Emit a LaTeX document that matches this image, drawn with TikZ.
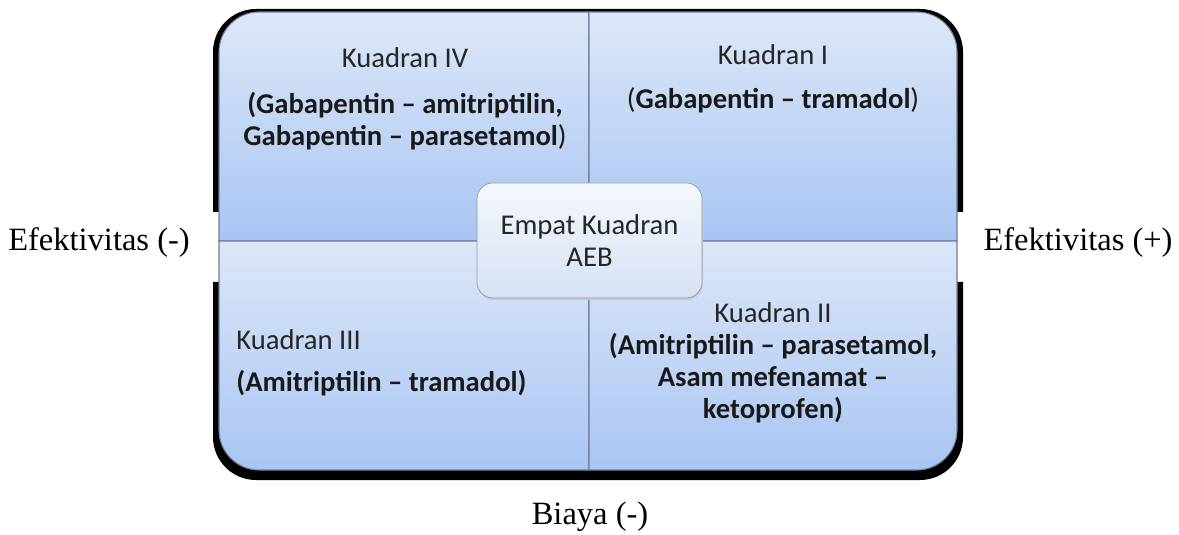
\documentclass[tikz,border=0pt]{standalone}
\usepackage{fontspec}
\setmainfont{Liberation Serif}
\newfontfamily\quadfont[Ligatures=TeX]{Carlito}
\definecolor{quadtop}{HTML}{DDE7F8}
\definecolor{quadbot}{HTML}{A9C5F3}
\definecolor{quadline}{HTML}{6E7F9B}
\definecolor{hubtop}{HTML}{F5F8FD}
\definecolor{hubbot}{HTML}{D6E1F3}

\begin{document}
\begin{tikzpicture}[x=0.02cm, y=0.02cm,
	quad/.style={top color=quadtop, bottom color=quadbot, draw=quadline, line width=0.6pt},
	qtitle/.style={font=\quadfont\fontsize{16.3}{18.1}\selectfont, inner sep=0pt, text=black!85},
	qitems/.style={font=\quadfont\bfseries\fontsize{16.3}{18.1}\selectfont, inner sep=0pt, align=center, text=black!90},
	axis/.style={font=\fontsize{18.5}{21}\selectfont, inner sep=0pt}]
	\useasboundingbox (0,0) rectangle (1179,534);
	% shadows behind the quadrants
	\fill[black] (213,322) -- (213,482) arc[start angle=180, end angle=90, radius=43] -- (589,525) -- (589,322) -- cycle;
	\fill[black] (963,322) -- (963,482) arc[start angle=0, end angle=90, radius=43] -- (589,525) -- (589,322) -- cycle;
	\fill[black] (213,252) -- (213,97) arc[start angle=180, end angle=270, radius=43] -- (589,54) -- (589,252) -- cycle;
	\fill[black] (963,252) -- (963,97) arc[start angle=0, end angle=-90, radius=43] -- (589,54) -- (589,252) -- cycle;
	% quadrants
	\draw[quad] (219,293) -- (219,482) arc[start angle=180, end angle=90, radius=40] -- (589,522) -- (589,293) -- cycle;
	\draw[quad] (957,293) -- (957,482) arc[start angle=0, end angle=90, radius=40] -- (589,522) -- (589,293) -- cycle;
	\draw[quad] (219,293) -- (219,104) arc[start angle=180, end angle=270, radius=40] -- (589,64) -- (589,293) -- cycle;
	\draw[quad] (957,293) -- (957,104) arc[start angle=0, end angle=-90, radius=40] -- (589,64) -- (589,293) -- cycle;

	\node[qtitle] (q4title) at (405,476) {Kuadran IV};
	\node[qitems] (q4items) at (405,413) {(Gabapentin -- amitriptilin,\\Gabapentin -- parasetamol{\mdseries)}};
	\node[qtitle] (q1title) at (773,479) {Kuadran I};
	\node[qitems] (q1items) at (773,434) {{\mdseries(}Gabapentin -- tramadol{\mdseries)}};
	\node[qtitle, anchor=west] (q3title) at (236,194) {Kuadran III};
	\node[qitems, anchor=west] (q3items) at (236,151) {(Amitriptilin -- tramadol)};
	\node[qtitle] (q2title) at (773,221) {Kuadran II};
	\node[qitems] (q2items) at (773,156) {(Amitriptilin -- parasetamol,\\Asam mefenamat --\\ketoprofen)};

	\fill[black!20, rounded corners=9pt] (478,234) rectangle (703,350);
	\node[draw=quadline!80, top color=hubtop, bottom color=hubbot, rounded corners=9pt,
		minimum width=225*0.02cm, minimum height=115*0.02cm, inner sep=0pt,
		font=\quadfont\fontsize{16.3}{18.1}\selectfont, align=center, text=black!85] (hub) at (589.5,293.5) {Empat Kuadran\\AEB};

	\node[axis] (effneg) at (99,291) {Efektivitas (-)};
	\node[axis] (effpos) at (1078,291) {Efektivitas (+)};
	\node[axis] (cost) at (590,17) {Biaya (-)};
\end{tikzpicture}
\end{document}
